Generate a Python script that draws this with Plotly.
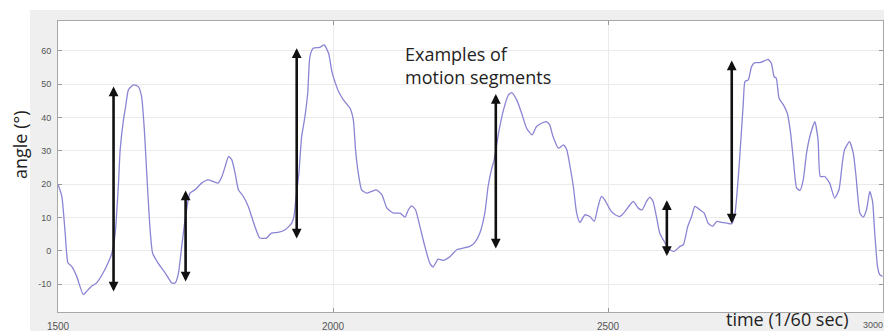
import plotly.graph_objects as go

# ---- data ----
time_vals = [1500, 1507, 1513, 1518, 1525, 1534, 1546, 1552, 1561, 1570, 1582, 1591, 1598, 1604, 1610, 1613,
             1619, 1623, 1628, 1637, 1646, 1652, 1657, 1661, 1667, 1672, 1682, 1695, 1707, 1713, 1719, 1725,
             1731, 1740, 1749, 1761, 1773, 1782, 1791, 1798, 1804, 1810, 1816, 1822, 1828, 1837, 1846, 1852,
             1858, 1867, 1879, 1888, 1900, 1913, 1925, 1929, 1933, 1938, 1943, 1949, 1954, 1958, 1964, 1976,
             1984, 1992, 1998, 2004, 2011, 2019, 2031, 2037, 2041, 2046, 2052, 2061, 2070, 2079, 2089, 2098,
             2110, 2122, 2131, 2137, 2143, 2150, 2158, 2167, 2176, 2182, 2191, 2200, 2213, 2225, 2237, 2249,
             2258, 2267, 2276, 2282, 2288, 2293, 2301, 2310, 2319, 2325, 2334, 2343, 2352, 2362, 2370, 2379,
             2388, 2394, 2400, 2410, 2419, 2425, 2431, 2437, 2443, 2449, 2458, 2467, 2475, 2482, 2488, 2494,
             2504, 2513, 2522, 2531, 2540, 2546, 2555, 2562, 2570, 2576, 2582, 2588, 2594, 2604, 2613, 2620,
             2631, 2637, 2645, 2652, 2658, 2667, 2675, 2682, 2690, 2698, 2707, 2716, 2725, 2731, 2737, 2742,
             2746, 2749, 2755, 2761, 2767, 2776, 2785, 2791, 2797, 2802, 2806, 2811, 2819, 2826, 2832, 2837,
             2843, 2849, 2855, 2861, 2867, 2876, 2882, 2886, 2894, 2903, 2912, 2920, 2926, 2930, 2939, 2946,
             2951, 2958, 2964, 2970, 2976, 2981, 2985, 2990, 2994, 2999]
angle_vals = [20.0, 16.3, 5.4, -3.6, -4.7, -7.7, -13.2, -12.2, -10.7, -9.7, -6.7, -3.7, -0.7, 5.3, 20.3, 30.3,
              39.3, 43.3, 48.3, 49.8, 49.3, 46.3, 36.3, 24.3, 7.3, -0.7, -3.7, -6.7, -9.7, -9.7, -6.7, 1.3,
              9.3, 17.3, 18.3, 20.3, 21.3, 20.8, 20.3, 22.3, 25.3, 28.3, 27.3, 23.3, 18.3, 16.3, 13.3, 10.3,
              7.3, 3.8, 3.8, 5.3, 5.5, 6.3, 8.3, 10.3, 16.3, 23.3, 34.3, 40.3, 47.3, 58.3, 60.8, 61.1,
              61.8, 59.3, 53.8, 50.5, 47.5, 45.3, 42.8, 39.3, 30.3, 23.3, 18.3, 17.3, 17.8, 18.3, 16.8, 12.8,
              11.3, 11.3, 10.1, 12.3, 13.5, 12.3, 7.3, 1.3, -3.7, -4.9, -2.5, -2.9, -1.7, 0.3, 0.8, 1.3,
              2.5, 5.3, 11.3, 19.3, 24.3, 27.3, 35.3, 42.3, 46.8, 47.5, 45.3, 41.3, 36.8, 34.8, 37.3, 38.3,
              38.8, 37.8, 34.3, 30.8, 31.8, 30.3, 25.3, 19.3, 11.3, 8.5, 10.8, 10.3, 8.8, 13.3, 16.3, 15.3,
              12.3, 10.8, 10.3, 11.8, 13.8, 14.8, 12.8, 12.3, 14.8, 16.1, 14.8, 10.3, 5.3, 2.3, 0.3, -0.2,
              1.3, 1.8, 7.3, 10.3, 13.3, 12.3, 11.3, 8.3, 7.3, 8.8, 8.5, 8.3, 8.1, 11.3, 22.3, 34.3,
              44.3, 50.8, 51.3, 55.3, 56.5, 56.5, 57.1, 57.5, 56.3, 52.3, 51.8, 45.8, 43.8, 41.3, 35.3, 27.3,
              18.8, 18.1, 21.3, 29.3, 34.3, 38.8, 33.3, 22.3, 22.3, 20.3, 15.8, 18.3, 26.3, 30.3, 32.8, 29.3,
              22.3, 11.3, 10.1, 12.3, 17.8, 14.8, 5.3, -4.7, -7.2, -7.7]

# motion-segment arrows
arrow_t = [1601, 1732, 1934, 2296, 2607, 2725]
arrow_lo = [-12.7, -9.7, 3.2, 0.2, -2.0, 7.7]
arrow_hi = [49.3, 18.1, 60.8, 47.1, 15.2, 57.1]

x_ticks = [1500, 2000, 2500, 3000]
y_ticks = [-10, 0, 10, 20, 30, 40, 50, 60]

annotation_text = "Examples of<br>motion segments"
x_title = "time (1/60 sec)"
y_title = "angle (°)"

# ---- figure (page has an 8px body margin, so figure is 8px smaller) ----
OFF = 8
W, H = 892 - OFF, 331 - OFF
ML, MR, MT, MB = 58 - OFF, 9, 21 - OFF, 19
PW, PH = W - ML - MR, H - MT - MB


def px_x(p):
    """page pixel x -> paper x"""
    return (p - OFF - ML) / PW


def px_y(p):
    """page pixel y -> paper y"""
    return (H - MB - (p - OFF)) / PH


fig = go.Figure()
fig.add_trace(go.Scatter(x=time_vals, y=angle_vals, mode="lines",
                         line=dict(color="#8a84d4", width=1.3, shape="spline", smoothing=0.5),
                         hoverinfo="skip", showlegend=False))

for t, lo, hi in zip(arrow_t, arrow_lo, arrow_hi):
    fig.add_annotation(x=t, y=hi, ax=t, ay=lo, xref="x", yref="y", axref="x", ayref="y",
                       text="", showarrow=True, arrowside="end+start",
                       arrowhead=2, startarrowhead=2, arrowsize=0.75, startarrowsize=0.75,
                       arrowwidth=2.6, arrowcolor="#111111", standoff=0, startstandoff=0)

font_main = "Open Sans, Liberation Sans, Arial, sans-serif"

fig.add_annotation(x=px_x(403), y=px_y(65), xref="paper", yref="paper", xanchor="left",
                   yanchor="middle", align="left", text=annotation_text, showarrow=False,
                   font=dict(family=font_main, size=18, color="#222222"))
fig.add_annotation(x=px_x(787), y=px_y(319), xref="paper", yref="paper", xanchor="center",
                   yanchor="middle", text=x_title, showarrow=False,
                   font=dict(family=font_main, size=18, color="#222222"))
fig.add_annotation(x=px_x(20), y=px_y(145), xref="paper", yref="paper", xanchor="center",
                   yanchor="middle", text=y_title, textangle=-90, showarrow=False,
                   font=dict(family=font_main, size=18, color="#222222"))

# white strips outside the gray panel
fig.add_shape(type="rect", xref="paper", yref="paper", x0=px_x(0), x1=px_x(30),
              y0=px_y(340), y1=px_y(0), fillcolor="white", line_width=0, layer="below")
fig.add_shape(type="rect", xref="paper", yref="paper", x0=px_x(0), x1=px_x(900),
              y0=px_y(10), y1=px_y(0), fillcolor="white", line_width=0, layer="below")

xtick_font = dict(family="Liberation Sans, Arial, sans-serif", size=10, color="#555555")
ytick_font = dict(family="Liberation Sans, Arial, sans-serif", size=9, color="#555555")

# last x tick label sits flush with the right edge of the page
xtick_text = [str(v) for v in x_ticks]
last_label = xtick_text[-1]
xtick_text[-1] = ""
fig.add_annotation(x=px_x(885), y=px_y(325), xref="paper", yref="paper", xanchor="right",
                   yanchor="middle", text=last_label, showarrow=False,
                   font=dict(family="Liberation Sans, Arial, sans-serif", size=9, color="#555555"))

fig.update_layout(
    width=W, height=H,
    margin=dict(l=ML, r=MR, t=MT, b=MB, pad=0),
    paper_bgcolor="#efefef", plot_bgcolor="white",
    showlegend=False,
    xaxis=dict(range=[1500, 3000], tickvals=x_ticks, ticktext=xtick_text,
               showgrid=True, gridcolor="#ebebeb", gridwidth=1, zeroline=False,
               showline=True, linecolor="#a8a8a8", linewidth=1, mirror="ticks",
               ticks="inside", ticklen=4, tickcolor="#999999", tickfont=xtick_font,
               automargin=False, ticklabelstandoff=5),
    yaxis=dict(range=[-18.4, 69.0], tickvals=y_ticks, ticktext=[str(v) for v in y_ticks],
               showgrid=True, gridcolor="#ebebeb", gridwidth=1, zeroline=False,
               showline=True, linecolor="#a8a8a8", linewidth=1, mirror="ticks",
               ticks="inside", ticklen=4, tickcolor="#999999", tickfont=ytick_font,
               automargin=False, ticklabelstandoff=4),
)

fig.write_html("out.html")
